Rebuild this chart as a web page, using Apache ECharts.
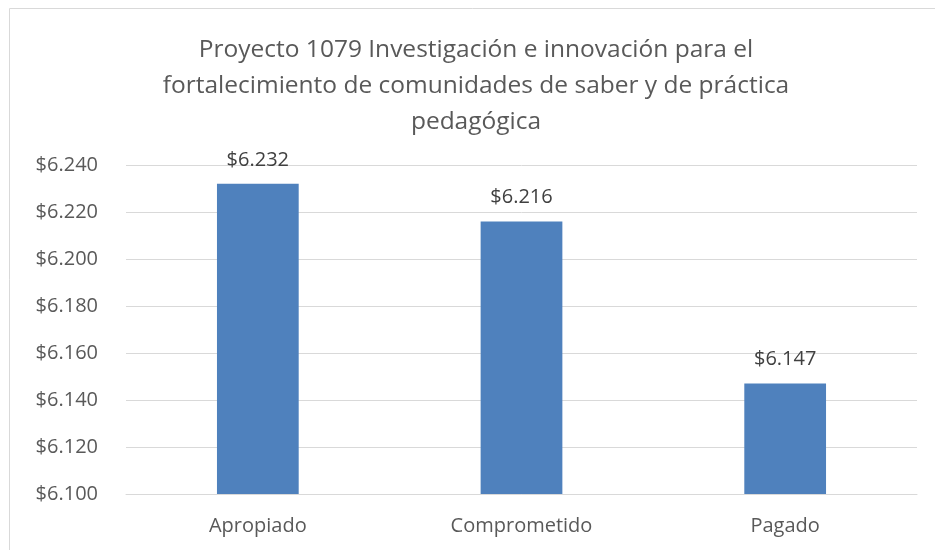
<!DOCTYPE html>
<html>
<head>
<meta charset="utf-8">
<script src="https://cdn.jsdelivr.net/npm/echarts@6/dist/echarts.min.js"></script>
<style>
  html, body { margin: 0; padding: 0; background: #fff; }
  #chart { width: 935px; height: 550px; }
</style>
</head>
<body>
<div id="chart"></div>
<script>
// datos del gráfico
const categories = ['Apropiado', 'Comprometido', 'Pagado']
const values = [6232, 6216, 6147]
const titleLines = [
  'Proyecto 1079 Investigación e innovación para el',
  'fortalecimiento de comunidades de saber y de práctica',
  'pedagógica',
]

const fmt = (v) => '$' + (v / 1000).toFixed(3)

const chart = echarts.init(document.getElementById('chart'))
chart.setOption({
  animation: false,
  textStyle: { fontFamily: '"Open Sans", sans-serif' },
  title: {
    text: titleLines.join('\n'),
    left: 471,
    textAlign: 'center',
    top: 27,
    textStyle: {
      fontSize: 24.5,
      fontWeight: 'normal',
      color: '#595959',
      lineHeight: 36,
    },
  },
  graphic: [
    {
      type: 'rect',
      shape: { x: 9.5, y: 8.5, width: 940, height: 560 },
      style: { fill: 'none', stroke: '#d9d9d9', lineWidth: 1 },
      silent: true,
    },
  ],
  grid: { left: 126, right: 18, top: 165, bottom: 56 },
  xAxis: {
    type: 'category',
    data: categories,
    axisLine: { show: true, lineStyle: { color: '#d9d9d9' } },
    axisTick: { show: false },
    axisLabel: { color: '#595959', fontSize: 20, margin: 22 },
  },
  yAxis: {
    type: 'value',
    min: 6100,
    max: 6240,
    interval: 20,
    axisLine: { show: false },
    axisTick: { show: false },
    splitLine: { lineStyle: { color: '#d9d9d9', width: 1 } },
    axisLabel: { color: '#595959', fontSize: 20, margin: 28, formatter: fmt },
  },
  series: [
    {
      type: 'bar',
      data: values,
      barWidth: '31%',
      itemStyle: { color: '#4f81bd' },
      label: {
        show: true,
        position: 'top',
        distance: 14,
        color: '#404040',
        fontSize: 20,
        formatter: (p) => fmt(p.value),
      },
    },
  ],
})
</script>
</body>
</html>
